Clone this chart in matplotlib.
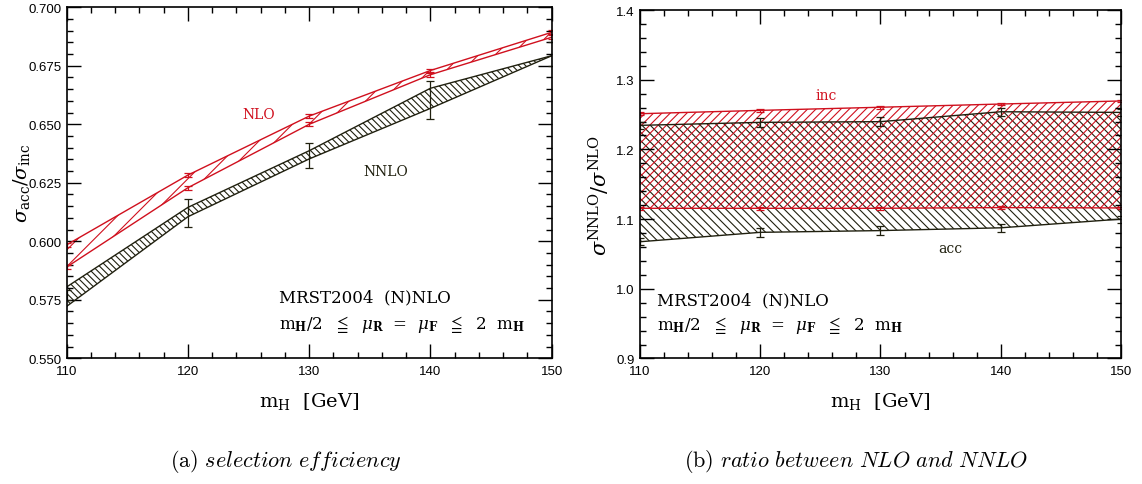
import numpy as np
import matplotlib.pyplot as plt
from matplotlib.ticker import MultipleLocator, FormatStrFormatter

plt.rcParams['mathtext.fontset'] = 'dejavuserif'
plt.rcParams['hatch.linewidth'] = 0.8

mh = [110, 120, 130, 140, 150]

# (a) selection efficiency sigma_acc / sigma_inc
nlo_hi = [0.5985, 0.6283, 0.6535, 0.6730, 0.6893]
nlo_lo = [0.5890, 0.6229, 0.6500, 0.6712, 0.6872]
nlo_err = [0.0008, 0.0008, 0.0008, 0.0008, 0.0008]
nnlo_hi = [0.5805, 0.6145, 0.6387, 0.6654, 0.6793]
nnlo_lo = [0.5722, 0.6105, 0.6352, 0.6568, 0.6793]
nnlo_mid = [0.5770, 0.6120, 0.6365, 0.6603, 0.6800]
nnlo_err = [0.0020, 0.0060, 0.0053, 0.0082, 0.0050]

# (b) ratio sigma^NNLO / sigma^NLO
inc_hi = [1.2512, 1.2560, 1.2605, 1.2651, 1.2695]
inc_lo = [1.1155, 1.1155, 1.1155, 1.1165, 1.1160]
inc_err = [0.002, 0.002, 0.002, 0.002, 0.002]
acc_hi = [1.2345, 1.2388, 1.2398, 1.2540, 1.2531]
acc_lo = [1.0675, 1.0810, 1.0835, 1.0875, 1.1000]
acc_err = [0.005, 0.006, 0.006, 0.006, 0.005]

red = '#d0101e'
blk = '#20200f'
serif = ['DejaVu Serif', 'DejaVu Sans']
scale_txt = r'm$_\mathbf{H}$/2  $\leqq$  $\mu_\mathbf{R}$  =  $\mu_\mathbf{F}$  $\leqq$  2  m$_\mathbf{H}$'

fig = plt.figure(figsize=(11.42, 4.85), dpi=100)
ax1 = fig.add_axes([0.0584, 0.2592, 0.4247, 0.7237])
ax2 = fig.add_axes([0.5604, 0.2588, 0.4212, 0.7185])


def style(ax, ymaj, ymin, fmt):
    ax.set_xlim(110, 150)
    ax.xaxis.set_major_locator(MultipleLocator(10))
    ax.xaxis.set_minor_locator(MultipleLocator(2))
    ax.yaxis.set_major_locator(MultipleLocator(ymaj))
    ax.yaxis.set_minor_locator(MultipleLocator(ymin))
    ax.yaxis.set_major_formatter(FormatStrFormatter(fmt))
    ax.tick_params(which='both', direction='in', top=True, right=True, width=1)
    ax.tick_params(which='major', length=10)
    ax.tick_params(which='minor', length=4)
    ax.tick_params(axis='x', pad=5)
    ax.tick_params(axis='y', pad=4)
    for lab in ax.get_xticklabels() + ax.get_yticklabels():
        lab.set_fontfamily('Liberation Sans')
        lab.set_fontsize(9.5)
    for sp in ax.spines.values():
        sp.set_linewidth(1.2)
    ax.set_xlabel('m$_\\mathrm{H}$  [GeV]', fontsize=14, family=serif)
    ax.xaxis.set_label_coords(0.5, -0.09)
    ax.xaxis.label.set_va('top')


def band(ax, lo, hi, color, hatch):
    ax.fill_between(mh, lo, hi, facecolor='none', edgecolor=color, hatch=hatch, linewidth=0)
    ax.plot(mh, lo, color=color, lw=1)
    ax.plot(mh, hi, color=color, lw=1)


# left panel
band(ax1, nnlo_lo, nnlo_hi, blk, '\\' * 5)
band(ax1, nlo_lo, nlo_hi, red, '//')
ax1.errorbar(mh, nlo_hi, yerr=nlo_err, fmt='none', ecolor=red, elinewidth=0.9, capsize=3, capthick=0.9)
ax1.errorbar(mh, nlo_lo, yerr=nlo_err, fmt='none', ecolor=red, elinewidth=0.9, capsize=3, capthick=0.9)
ax1.errorbar(mh, nnlo_mid, yerr=nnlo_err, fmt='none', ecolor=blk, elinewidth=0.9, capsize=3, capthick=0.9)
style(ax1, 0.025, 0.005, '%.3f')
ax1.set_ylim(0.55, 0.70)
ax1.set_ylabel(r'$\sigma_{\rm acc}/\sigma_{\rm inc}$', fontsize=14)
ax1.yaxis.set_label_coords(-0.071, 0.5)
ax1.text(125.8, 0.6544, 'NLO', color=red, ha='center', va='center', fontsize=10, family=serif)
ax1.text(136.3, 0.6300, 'NNLO', color=blk, ha='center', va='center', fontsize=10, family=serif)
ax1.text(127.5, 0.5762, 'MRST2004  (N)NLO', ha='left', va='center', fontsize=12, family=serif)
ax1.text(127.5, 0.5650, scale_txt, ha='left', va='center', fontsize=12, family=serif)

# right panel
band(ax2, acc_lo, acc_hi, blk, '\\' * 4)
band(ax2, inc_lo, inc_hi, red, '////')
for y, e, c in [(acc_hi, acc_err, blk), (acc_lo, acc_err, blk), (inc_hi, inc_err, red), (inc_lo, inc_err, red)]:
    ax2.errorbar(mh, y, yerr=e, fmt='none', ecolor=c, elinewidth=0.9, capsize=3, capthick=0.9)
style(ax2, 0.1, 0.02, '%.1f')
ax2.set_ylim(0.9, 1.4)
ax2.set_ylabel(r'$\sigma^{\rm NNLO}/\sigma^{\rm NLO}$', fontsize=15)
ax2.yaxis.set_label_coords(-0.058, 0.47)
ax2.text(125.5, 1.278, 'inc', color=red, ha='center', va='center', fontsize=10, family=serif)
ax2.text(135.8, 1.0585, 'acc', color=blk, ha='center', va='center', fontsize=10, family=serif)
ax2.text(111.4, 0.984, 'MRST2004  (N)NLO', ha='left', va='center', fontsize=12, family=serif)
ax2.text(111.4, 0.949, scale_txt, ha='left', va='center', fontsize=12, family=serif)

fig.text(285.5 / 1142, 1 - 466.7 / 485, r'$\mathrm{(a)}\ \mathit{selection\ efficiency}$',
         ha='center', va='baseline', fontsize=16, math_fontfamily='cm')
fig.text(856 / 1142, 1 - 466.7 / 485, r'$\mathrm{(b)}\ \mathit{ratio\ between\ NLO\ and\ NNLO}$',
         ha='center', va='baseline', fontsize=16, math_fontfamily='cm')

fig.savefig('out.png', dpi=100)
